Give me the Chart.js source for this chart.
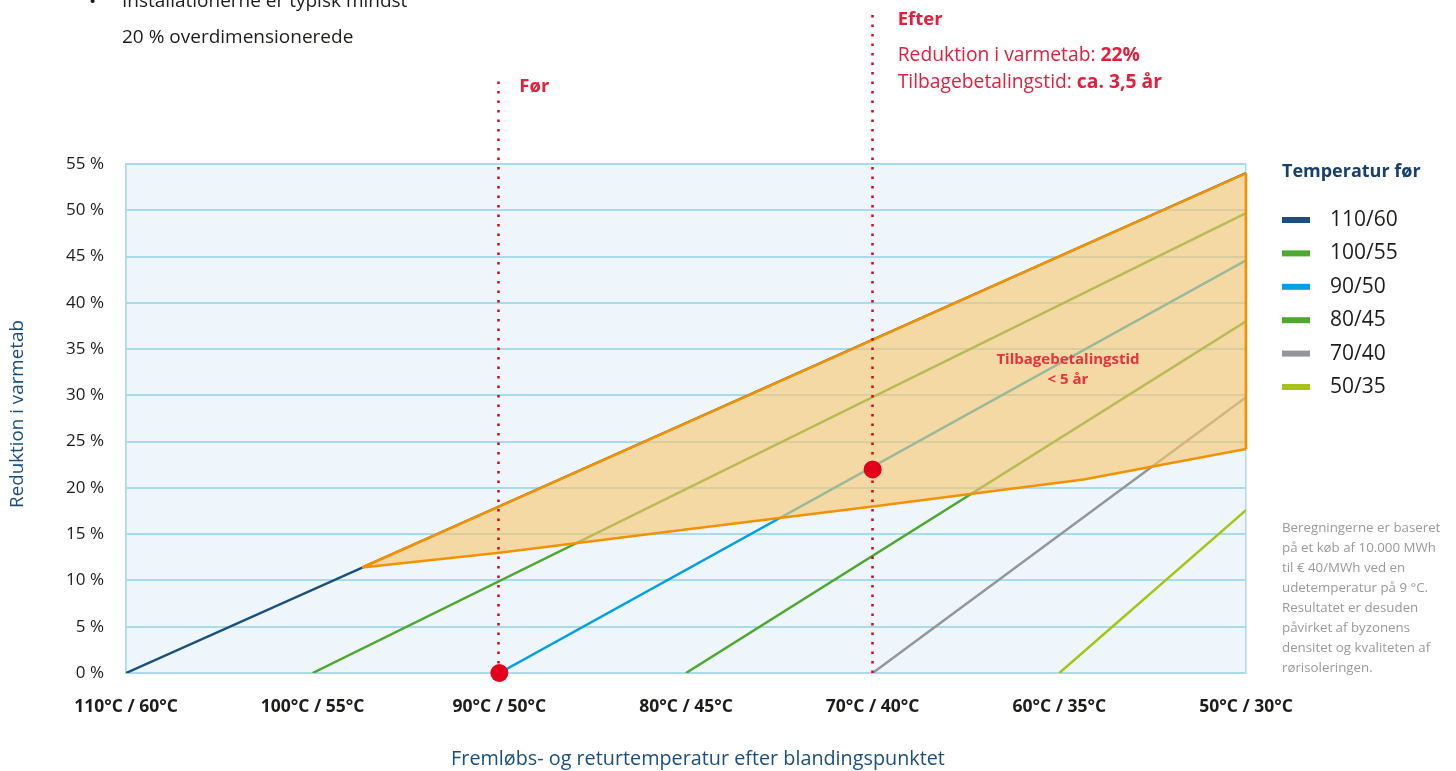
<!DOCTYPE html>
<html lang="da">
<head>
<meta charset="utf-8">
<title>Reduktion i varmetab</title>
<script src="https://cdn.jsdelivr.net/npm/chart.js@4/dist/chart.umd.min.js"></script>
<style>
  html, body { margin: 0; padding: 0; background: #ffffff; }
  #wrap { position: relative; width: 1456px; height: 771px; }
</style>
</head>
<body>
<div id="wrap"><canvas id="chart" width="1456" height="771"></canvas></div>
<script>
// Temperature pairs along the x axis (flow / return after the mixing point)
const categories = ['110°C / 60°C', '100°C / 55°C', '90°C / 50°C', '80°C / 45°C', '70°C / 40°C', '60°C / 35°C', '50°C / 30°C'];

// Original temperature of each installation ("Temperatur før")
const seriesNames = ['110/60', '100/55', '90/50', '80/45', '70/40', '50/35'];
const seriesColors = ['#1b4f7e', '#4ea72e', '#00a0e3', '#4ea72e', '#949799', '#a6c414'];
// Position on the x axis where each line starts at 0 %
const seriesStart = [0, 1, 2, 3, 4, 5];
// Reduction in heat loss (%) reached at 50°C / 30°C
const seriesEnd = [54.0, 49.7, 44.6, 38.0, 29.8, 17.6];

// Payback time below 5 years: band edges
const bandX = [1.264, 2, 3, 4, 5.13, 6];
const bandUpper = [11.4, 18.0, 27.0, 36.0, 46.2, 54.0];
const bandLower = [11.4, 13.0, 15.5, 18.0, 20.9, 24.2];

// Before / after example
const beforeX = 2, beforeY = 0;
const afterX = 4, afterY = 22;

// Y axis ticks
const yTicks = [0, 5, 10, 15, 20, 25, 30, 35, 40, 45, 50, 55];

const noteLines = [
  'Beregningerne er baseret',
  'på et køb af 10.000 MWh',
  'til € 40/MWh ved en',
  'udetemperatur på 9 °C.',
  'Resultatet er desuden',
  'påvirket af byzonens',
  'densitet og kvaliteten af',
  'rørisoleringen.'
];

const FONT = '"Open Sans", "Noto Sans", sans-serif';
const RED = '#e2203c';
const DARKBLUE = '#1b4f7e';

// Closed outline of the band: upper edge left to right, lower edge back
const bandShape = bandX.map((x, i) => ({ x, y: bandUpper[i] }))
  .concat(bandX.slice().reverse().map((x, i) => ({ x, y: bandLower[bandLower.length - 1 - i] })));

const lineSets = seriesNames.map((name, i) => ({
  label: name,
  data: [{ x: seriesStart[i], y: 0 }, { x: categories.length - 1, y: seriesEnd[i] }],
  borderColor: seriesColors[i],
  backgroundColor: seriesColors[i],
  borderWidth: 2.5,
  pointRadius: 0,
  fill: false
}));

const plotBackground = {
  id: 'plotBackground',
  beforeDraw(chart) {
    const { ctx, chartArea: a } = chart;
    ctx.save();
    ctx.fillStyle = '#eef6fb';
    ctx.fillRect(a.left, a.top, a.right - a.left, a.bottom - a.top);
    ctx.restore();
  }
};

const annotations = {
  id: 'annotations',
  afterDatasetsDraw(chart) {
    const { ctx, scales: { x, y } } = chart;
    ctx.save();
    // dotted marker lines
    ctx.strokeStyle = '#e2001a';
    ctx.lineWidth = 2.5;
    ctx.setLineDash([2.5, 7]);
    [[beforeX, 75], [afterX, 12]].forEach(([v, top]) => {
      const px = Math.round(x.getPixelForValue(v)) - 0.5;
      ctx.beginPath();
      ctx.moveTo(px, y.getPixelForValue(0));
      ctx.lineTo(px, top);
      ctx.stroke();
    });
    ctx.setLineDash([]);
    // right edge of the band
    const rx = x.getPixelForValue(bandX[bandX.length - 1]);
    ctx.strokeStyle = '#f39200';
    ctx.lineWidth = 2.5;
    ctx.beginPath();
    ctx.moveTo(rx, y.getPixelForValue(bandLower[bandLower.length - 1]));
    ctx.lineTo(rx, y.getPixelForValue(bandUpper[bandUpper.length - 1]));
    ctx.stroke();
    ctx.restore();
  },
  afterDraw(chart) {
    const { ctx, scales: { x, y } } = chart;
    ctx.save();
    ctx.textBaseline = 'middle';

    // intro text
    ctx.fillStyle = '#1d1d1b';
    ctx.font = '19px ' + FONT;
    ctx.fillText('•', 89, 3);
    ctx.fillText('Installationerne er typisk mindst', 122, 2);
    ctx.fillText('20 % overdimensionerede', 122, 38);

    // before label
    ctx.fillStyle = RED;
    ctx.font = 'bold 18.5px ' + FONT;
    ctx.fillText('Før', x.getPixelForValue(beforeX) + 20, 87);

    // after label block
    const ax = x.getPixelForValue(afterX) + 25;
    ctx.fillText('Efter', ax, 20);
    const mixed = (parts, yy) => {
      let cx = ax;
      parts.forEach(([t, bold]) => {
        ctx.font = (bold ? 'bold ' : '') + '19.3px ' + FONT;
        ctx.fillText(t, cx, yy);
        cx += ctx.measureText(t).width;
      });
    };
    mixed([['Reduktion i varmetab: ', false], [afterY + '%', true]], 56);
    mixed([['Tilbagebetalingstid: ', false], ['ca. 3,5 år', true]], 83);

    // band label
    ctx.textAlign = 'center';
    ctx.fillStyle = '#e6333f';
    ctx.font = 'bold 15px ' + FONT;
    ctx.fillText('Tilbagebetalingstid', 1068, 360);
    ctx.fillText('< 5 år', 1068, 380);

    // axis titles
    ctx.fillStyle = DARKBLUE;
    ctx.font = '19.8px ' + FONT;
    ctx.fillText('Fremløbs- og returtemperatur efter blandingspunktet', 698, 759);
    ctx.save();
    ctx.translate(18, 414);
    ctx.rotate(-Math.PI / 2);
    ctx.font = '18.8px ' + FONT;
    ctx.fillText('Reduktion i varmetab', 0, 0);
    ctx.restore();

    // legend
    ctx.textAlign = 'left';
    ctx.fillStyle = '#17406d';
    ctx.font = 'bold 18px ' + FONT;
    ctx.fillText('Temperatur før', 1282, 172);
    ctx.font = '21px ' + FONT;
    seriesNames.forEach((name, i) => {
      const cy = 220 + i * 33.4;
      ctx.fillStyle = seriesColors[i];
      ctx.fillRect(1282, cy - 3, 28, 6);
      ctx.fillStyle = '#1d1d1b';
      ctx.fillText(name, 1330, cy);
    });

    // note
    ctx.fillStyle = '#9a9a9a';
    ctx.font = '13.3px ' + FONT;
    noteLines.forEach((t, i) => ctx.fillText(t, 1282, 528 + i * 20.1));
    ctx.restore();
  }
};

new Chart(document.getElementById('chart'), {
  type: 'line',
  data: {
    datasets: [
      {
        label: 'Før / efter',
        data: [{ x: beforeX, y: beforeY }, { x: afterX, y: afterY }],
        showLine: false,
        clip: false,
        pointRadius: 9,
        pointBackgroundColor: '#e2001a',
        pointBorderColor: '#e2001a',
        pointBorderWidth: 0
      },
      {
        label: 'Tilbagebetalingstid < 5 år',
        data: bandShape,
        borderColor: '#f39200',
        borderWidth: 2.5,
        backgroundColor: 'rgba(248,198,109,0.62)',
        pointRadius: 0,
        fill: 'shape',
        tension: 0
      },
      ...lineSets
    ]
  },
  options: {
    responsive: false,
    animation: false,
    layout: { padding: { top: 164, left: 0, right: 210, bottom: 0 } },
    plugins: {
      legend: { display: false },
      tooltip: { enabled: false }
    },
    scales: {
      x: {
        type: 'linear',
        min: 0,
        max: categories.length - 1,
        afterFit(scale) { scale.height = 98; },
        afterBuildTicks(scale) { scale.ticks = categories.map((_, i) => ({ value: i })); },
        ticks: {
          autoSkip: false,
          maxRotation: 0,
          padding: 24,
          color: '#1d1d1b',
          font: { family: FONT, size: 17.5, weight: 'bold' },
          callback: (v) => categories[v]
        },
        grid: {
          drawTicks: false,
          lineWidth: 1.5,
          color: (c) => (c.tick && (c.tick.value === 0 || c.tick.value === categories.length - 1)) ? '#a9daee' : 'rgba(0,0,0,0)'
        },
        border: { display: true, color: '#a9daee', width: 2 }
      },
      y: {
        min: 0,
        max: 55,
        afterFit(scale) { scale.width = 126; },
        afterBuildTicks(scale) { scale.ticks = yTicks.map((v) => ({ value: v })); },
        ticks: {
          padding: 22,
          color: '#1d1d1b',
          font: { family: FONT, size: 17 },
          callback: (v) => v + ' %'
        },
        grid: { drawTicks: false, color: '#a9daee', lineWidth: 2 },
        border: { display: true, color: '#a9daee', width: 1.5 }
      }
    }
  },
  plugins: [plotBackground, annotations]
});
</script>
</body>
</html>
